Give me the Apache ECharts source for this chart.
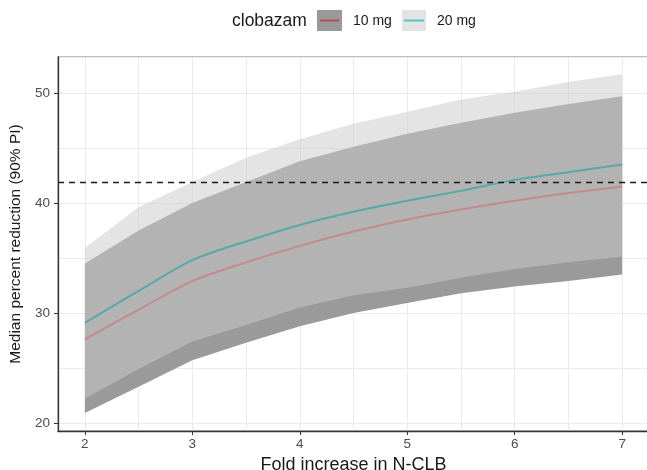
<!DOCTYPE html>
<html>
<head>
<meta charset="utf-8">
<script src="https://cdn.jsdelivr.net/npm/echarts@6/dist/echarts.min.js"></script>
<style>
html, body { margin: 0; padding: 0; background: #fff; }
#chart { width: 647px; height: 470px; }
</style>
</head>
<body>
<div id="chart"></div>
<script>
// fold increase in N-CLB
var foldIncrease = [2, 2.5, 3, 3.5, 4, 4.5, 5, 5.5, 6, 6.5, 7];

// clobazam 10 mg: median and 90% PI
var median10 = [27.6, 30.3, 32.9, 34.6, 36.1, 37.4, 38.5, 39.4, 40.2, 40.9, 41.5];
var lower10 = [20.9, 23.3, 25.7, 27.3, 28.8, 30.0, 30.9, 31.8, 32.4, 32.9, 33.5];
var upper10 = [34.5, 37.5, 40.0, 41.9, 43.8, 45.1, 46.3, 47.3, 48.2, 49.0, 49.7];

// clobazam 20 mg: median and 90% PI
var median20 = [29.1, 32.0, 34.8, 36.5, 38.0, 39.2, 40.2, 41.1, 42.1, 42.8, 43.5];
var lower20 = [22.2, 24.9, 27.4, 28.9, 30.5, 31.6, 32.3, 33.2, 34.0, 34.6, 35.1];
var upper20 = [35.9, 39.6, 41.9, 44.1, 45.8, 47.2, 48.3, 49.4, 50.1, 51.0, 51.7];

var refLevel = 41.9;
var xTicks = [2, 3, 4, 5, 6, 7];
var yTicks = [20, 30, 40, 50];

var chart = echarts.init(document.getElementById('chart'));

function pairs(ys) {
    return foldIncrease.map(function (x, i) { return [x, ys[i]]; });
}

// ribbon between lo and hi
function band(name, lo, hi, color, z) {
    return {
        name: name,
        type: 'custom',
        silent: true,
        z: z,
        data: [[foldIncrease[0], lo[0]]],
        renderItem: function (params, api) {
            var pts = [];
            for (var i = 0; i < foldIncrease.length; i++) {
                pts.push(api.coord([foldIncrease[i], hi[i]]));
            }
            for (var j = foldIncrease.length - 1; j >= 0; j--) {
                pts.push(api.coord([foldIncrease[j], lo[j]]));
            }
            return { type: 'polygon', shape: { points: pts }, style: { fill: color } };
        }
    };
}

function medianLine(name, ys, color) {
    return {
        name: name,
        type: 'line',
        z: 3,
        silent: true,
        symbol: 'none',
        smooth: 0.3,
        data: pairs(ys),
        lineStyle: { color: color, width: 2 }
    };
}

var txt = '#1a1a1a';
var tickTxt = '#4d4d4d';

var option = {
    animation: false,
    textStyle: { fontFamily: 'Liberation Sans' },
    grid: {
        left: 58, right: -2, top: 57, bottom: 39,
        outerBoundsMode: 'none',
        containLabel: false,
        show: true, borderColor: '#ababab', borderWidth: 1.5
    },
    xAxis: [{
        type: 'value',
        min: 1.75, max: 7.25,
        name: 'Fold increase in N-CLB',
        nameLocation: 'middle',
        nameGap: 15,
        nameTextStyle: { fontSize: 18, color: txt },
        axisLine: { onZero: false, lineStyle: { color: '#333', width: 1.3 } },
        axisTick: { customValues: xTicks, length: 4, lineStyle: { color: '#333' } },
        axisLabel: {
            customValues: xTicks, color: tickTxt, fontSize: 13.5, margin: 6,
            formatter: function (v) { return Number.isInteger(v) ? String(v) : ''; }
        },
        splitLine: { show: false }
    }, {
        // only carries the grid lines
        type: 'value',
        position: 'top',
        min: 1.75, max: 7.25,
        splitNumber: 11,
        axisLine: { show: false },
        axisTick: { show: false },
        axisLabel: { show: false },
        splitLine: { lineStyle: { color: '#ebebeb', width: 1 } }
    }],
    yAxis: [{
        type: 'value',
        min: 19.27, max: 53.27,
        name: 'Median percent reduction (90% PI)',
        nameLocation: 'middle',
        nameGap: 21,
        nameTextStyle: { fontSize: 15.5, color: txt },
        axisLine: { show: true, onZero: false, lineStyle: { color: '#333', width: 1.3 } },
        axisTick: { show: true, customValues: yTicks, length: 4, lineStyle: { color: '#333' } },
        axisLabel: {
            customValues: yTicks, color: tickTxt, fontSize: 13.5, margin: 8,
            formatter: function (v) { return v % 10 === 0 ? String(v) : ''; }
        },
        splitLine: { show: false }
    }, {
        type: 'value',
        position: 'right',
        min: 19.27, max: 53.27,
        splitNumber: 6,
        axisLine: { show: false },
        axisTick: { show: false },
        axisLabel: { show: false },
        splitLine: { lineStyle: { color: '#ebebeb', width: 1 } }
    }],
    series: [
        band('10 mg', lower10, upper10, '#9a9a9a', 1),
        band('20 mg', lower20, upper20, 'rgba(203,203,203,0.52)', 2),
        medianLine('10 mg', median10, '#c4898a'),
        medianLine('20 mg', median20, '#55aaa8'),
        {
            name: 'ref',
            type: 'line',
            z: 4,
            data: [],
            markLine: {
                silent: true,
                symbol: 'none',
                label: { show: false },
                lineStyle: { color: '#1a1a1a', type: [6, 5], width: 1.3 },
                data: [{ yAxis: refLevel }]
            }
        }
    ],
    graphic: [
        { type: 'text', x: 232, y: 21, style: { text: 'clobazam', fontSize: 17.5, fontFamily: 'Liberation Sans', fill: txt, verticalAlign: 'middle' } },
        { type: 'rect', shape: { x: 317, y: 10, width: 25, height: 21 }, style: { fill: '#999999' } },
        { type: 'line', shape: { x1: 320, y1: 20.5, x2: 339, y2: 20.5 }, style: { stroke: '#b3504d', lineWidth: 2 } },
        { type: 'text', x: 353, y: 21, style: { text: '10 mg', fontSize: 14, fontFamily: 'Liberation Sans', fill: txt, verticalAlign: 'middle' } },
        { type: 'rect', shape: { x: 402, y: 10, width: 24, height: 21 }, style: { fill: '#e3e3e3' } },
        { type: 'line', shape: { x1: 404, y1: 20.5, x2: 424, y2: 20.5 }, style: { stroke: '#52c4c4', lineWidth: 2 } },
        { type: 'text', x: 437, y: 21, style: { text: '20 mg', fontSize: 14, fontFamily: 'Liberation Sans', fill: txt, verticalAlign: 'middle' } }
    ]
};

chart.setOption(option);
</script>
</body>
</html>
